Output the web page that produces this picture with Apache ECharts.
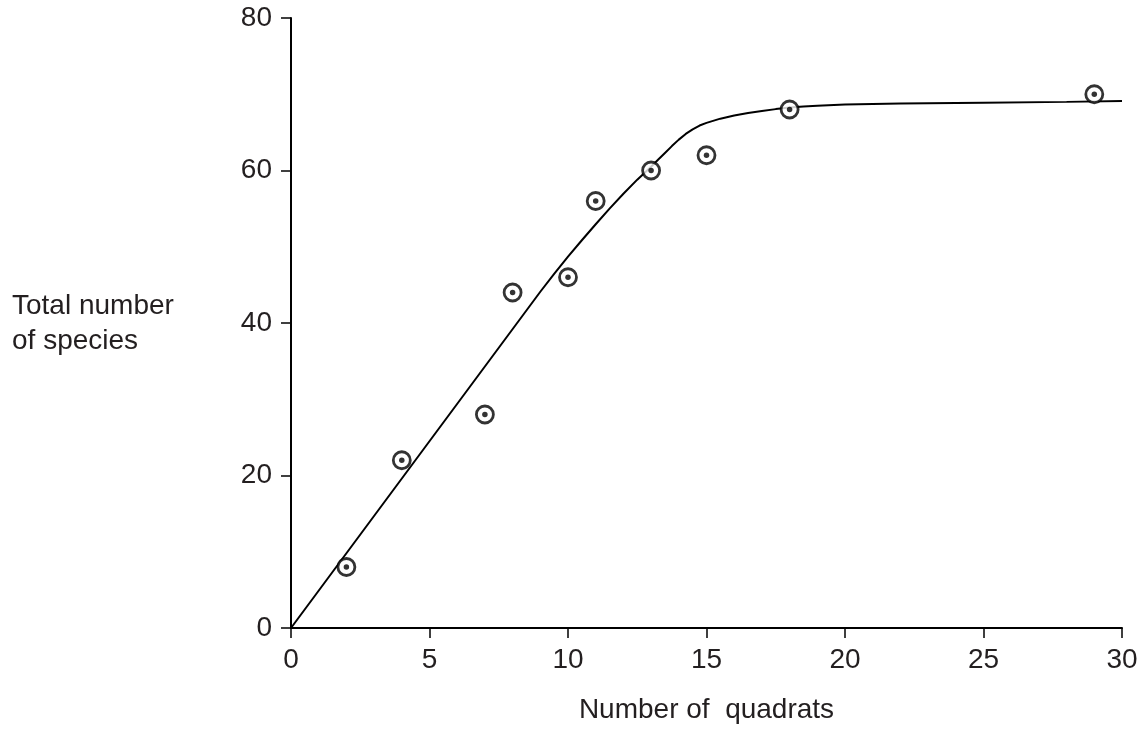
<!DOCTYPE html>
<html>
<head>
<meta charset="utf-8">
<script src="https://cdn.jsdelivr.net/npm/echarts@6/dist/echarts.min.js"></script>
<style>
  html, body { margin: 0; padding: 0; background: #ffffff; }
  #chart { width: 1144px; height: 731px; }
</style>
</head>
<body>
<div id="chart"></div>
<script>
// Observed data points (number of quadrats, total number of species)
const quadrats = [2, 4, 7, 8, 10, 11, 13, 15, 18, 29];
const species = [8, 22, 28, 44, 46, 56, 60, 62, 68, 70];

// Fitted curve
const curveX = [0, 9, 9.5, 10, 10.5, 11, 11.5, 12, 12.5, 13, 13.25, 13.5, 13.75, 14, 14.25, 14.5, 14.75, 15, 15.5, 16, 16.5, 17, 17.5, 18, 18.5, 19, 20, 22, 25, 28, 30];
const curveY = [0, 44.1, 46.45, 48.7, 50.85, 52.95, 55.0, 56.95, 58.8, 60.5, 61.4, 62.3, 63.2, 64.05, 64.8, 65.4, 65.9, 66.25, 66.8, 67.2, 67.55, 67.8, 68.05, 68.25, 68.4, 68.5, 68.65, 68.8, 68.9, 69.0, 69.1];

// Axis ticks
const xTicks = [0, 5, 10, 15, 20, 25, 30];
const yTicks = [0, 20, 40, 60, 80];

const xTitle = 'Number of  quadrats';
const yTitle = 'Total number\nof species';

const points = quadrats.map((q, i) => [q, species[i]]);
const curve = curveX.map((x, i) => [x, curveY[i]]);

const textColor = '#231f20';
const fontFamily = '"Liberation Sans", Arial, Helvetica, sans-serif';

const chart = echarts.init(document.getElementById('chart'), null, { renderer: 'canvas' });
chart.setOption({
  animation: false,
  backgroundColor: '#ffffff',
  grid: { left: 291, right: 22, top: 18, bottom: 103, containLabel: false },
  xAxis: {
    type: 'value',
    min: xTicks[0],
    max: xTicks[xTicks.length - 1],
    interval: xTicks[1] - xTicks[0],
    name: xTitle,
    nameLocation: 'middle',
    nameGap: 68,
    nameTextStyle: { color: textColor, fontSize: 28, fontFamily: fontFamily },
    axisLine: { show: true, lineStyle: { color: '#000', width: 2 } },
    axisTick: { show: true, length: 10, lineStyle: { color: '#000', width: 1.5 } },
    axisLabel: { color: textColor, fontSize: 28, fontFamily: fontFamily, margin: 18 },
    splitLine: { show: false }
  },
  yAxis: {
    type: 'value',
    min: yTicks[0],
    max: yTicks[yTicks.length - 1],
    interval: yTicks[1] - yTicks[0],
    axisLine: { show: true, lineStyle: { color: '#000', width: 2 } },
    axisTick: { show: true, length: 10, lineStyle: { color: '#000', width: 1.5 } },
    axisLabel: { color: textColor, fontSize: 28, fontFamily: fontFamily, margin: 19 },
    splitLine: { show: false }
  },
  graphic: [{
    type: 'text',
    left: 12,
    top: 289,
    style: {
      text: yTitle,
      fill: textColor,
      fontSize: 28,
      fontFamily: fontFamily,
      lineHeight: 35
    }
  }],
  series: [
    {
      type: 'line',
      data: curve,
      smooth: false,
      showSymbol: false,
      lineStyle: { color: '#000', width: 2 },
      z: 2
    },
    {
      type: 'scatter',
      data: points,
      symbol: 'circle',
      symbolSize: 17,
      itemStyle: { color: '#fff', borderColor: '#000', borderWidth: 2.8 },
      z: 3
    },
    {
      type: 'scatter',
      data: points,
      symbol: 'circle',
      symbolSize: 5.5,
      itemStyle: { color: '#000' },
      z: 4
    }
  ]
});
</script>
</body>
</html>
